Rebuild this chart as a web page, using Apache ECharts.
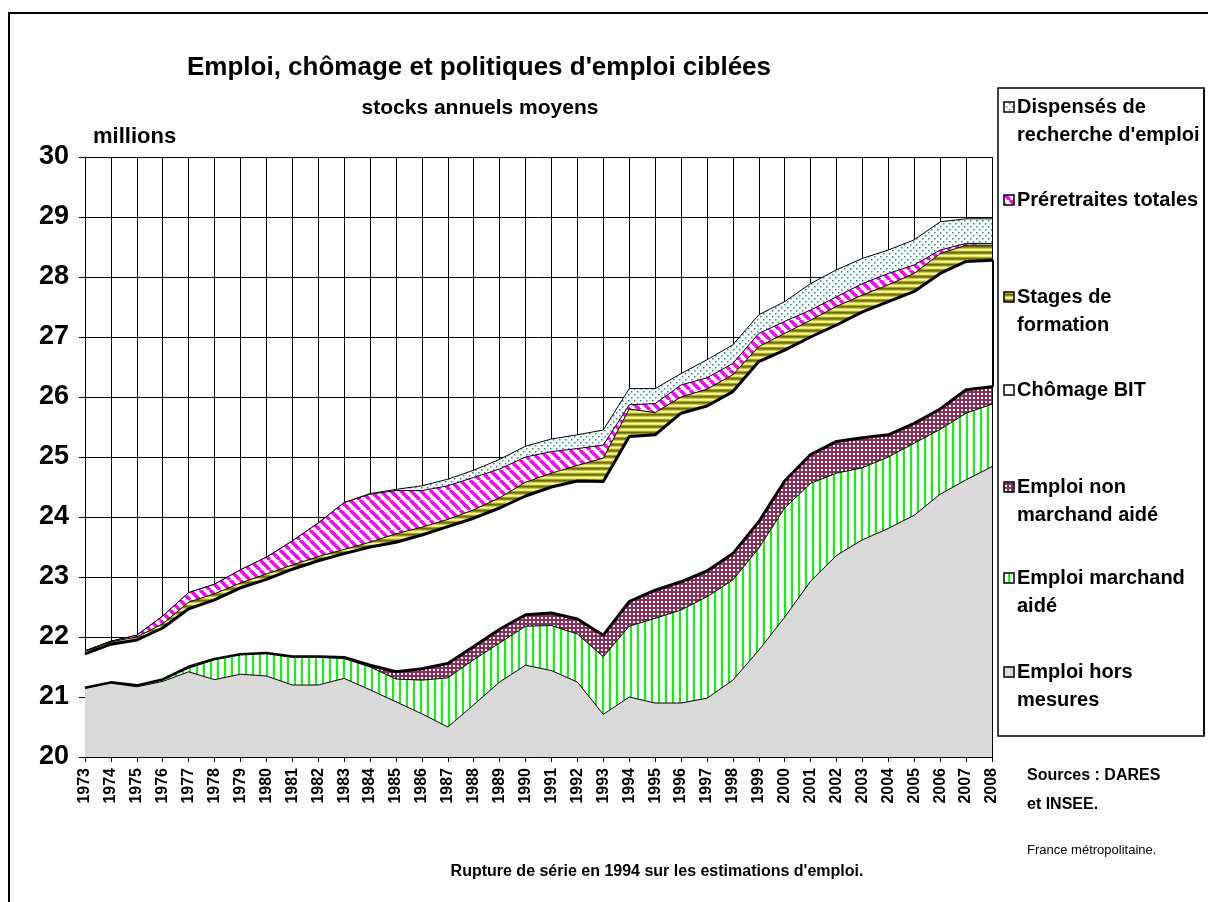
<!DOCTYPE html>
<html>
<head>
<meta charset="utf-8">
<title>Emploi, chômage et politiques d'emploi ciblées</title>
<script src="https://cdn.jsdelivr.net/npm/echarts@6/dist/echarts.min.js"></script>
<style>
  html, body { margin: 0; padding: 0; background: #fff; }
  #chart { width: 1208px; height: 902px; }
</style>
</head>
<body>
<div id="chart"></div>
<script>
// stocks annuels moyens, en millions (France métropolitaine)
const years = ['1973', '1974', '1975', '1976', '1977', '1978', '1979', '1980', '1981', '1982',
  '1983', '1984', '1985', '1986', '1987', '1988', '1989', '1990', '1991', '1992',
  '1993', '1994', '1995', '1996', '1997', '1998', '1999', '2000', '2001', '2002',
  '2003', '2004', '2005', '2006', '2007', '2008']

const horsMesures = [21.14, 21.23, 21.17, 21.26, 21.42, 21.29, 21.38, 21.35, 21.20, 21.20,
  21.31, 21.12, 20.92, 20.72, 20.50, 20.87, 21.25, 21.53, 21.44, 21.25,
  20.71, 21.00, 20.90, 20.90, 20.98, 21.28, 21.78, 22.33, 22.93, 23.36,
  23.62, 23.81, 24.03, 24.38, 24.62, 24.84]
const marchandAide = [0.00, 0.00, 0.01, 0.02, 0.06, 0.33, 0.32, 0.37, 0.46, 0.46,
  0.33, 0.38, 0.38, 0.56, 0.82, 0.75, 0.65, 0.65, 0.75, 0.80,
  0.96, 1.18, 1.41, 1.55, 1.69, 1.67, 1.70, 1.82, 1.63, 1.37,
  1.20, 1.19, 1.20, 1.08, 1.11, 1.04]
const nonMarchandAide = [0.01, 0.01, 0.01, 0.01, 0.02, 0.01, 0.01, 0.01, 0.01, 0.01,
  0.02, 0.03, 0.12, 0.19, 0.24, 0.22, 0.23, 0.19, 0.21, 0.25,
  0.36, 0.41, 0.47, 0.47, 0.43, 0.44, 0.44, 0.45, 0.48, 0.53,
  0.50, 0.37, 0.33, 0.34, 0.39, 0.29]
const chomageBIT = [0.57, 0.64, 0.76, 0.86, 0.97, 0.99, 1.11, 1.23, 1.46, 1.60,
  1.73, 1.97, 2.16, 2.23, 2.28, 2.14, 2.02, 1.98, 2.10, 2.30,
  2.56, 2.75, 2.59, 2.81, 2.75, 2.70, 2.67, 2.18, 1.96, 1.94,
  2.10, 2.22, 2.20, 2.26, 2.14, 2.11]
const stagesFormation = [0.04, 0.04, 0.05, 0.07, 0.11, 0.10, 0.08, 0.09, 0.07, 0.07,
  0.07, 0.08, 0.14, 0.13, 0.12, 0.14, 0.17, 0.23, 0.23, 0.26,
  0.39, 0.46, 0.37, 0.27, 0.28, 0.28, 0.25, 0.28, 0.28, 0.31,
  0.28, 0.28, 0.30, 0.33, 0.27, 0.25]
const preretraites = [0.01, 0.01, 0.03, 0.13, 0.16, 0.16, 0.22, 0.28, 0.40, 0.56,
  0.78, 0.80, 0.72, 0.61, 0.56, 0.54, 0.48, 0.42, 0.36, 0.28,
  0.22, 0.07, 0.15, 0.20, 0.19, 0.19, 0.22, 0.20, 0.17, 0.16,
  0.19, 0.19, 0.14, 0.06, 0.03, 0.03]
const dispenses = [0.00, 0.00, 0.00, 0.00, 0.00, 0.00, 0.00, 0.00, 0.00, 0.00,
  0.00, 0.01, 0.02, 0.08, 0.11, 0.12, 0.16, 0.18, 0.21, 0.23,
  0.25, 0.27, 0.25, 0.19, 0.30, 0.31, 0.31, 0.33, 0.44, 0.45,
  0.42, 0.39, 0.42, 0.47, 0.41, 0.41]

const FONT = "'Liberation Sans', Arial, sans-serif"

// motifs de remplissage façon Excel
function tile(w, h, paint) {
  const c = document.createElement('canvas')
  c.width = w
  c.height = h
  paint(c.getContext('2d'))
  return {image: c, repeat: 'repeat'}
}

const fillGris = '#d9d9d9'
const fillVert = tile(7, 7, g => {
  g.fillStyle = '#fff'; g.fillRect(0, 0, 7, 7)
  g.fillStyle = '#00ff00'; g.fillRect(0, 0, 2, 7)
})
const fillBordeaux = tile(4, 4, g => {
  g.fillStyle = '#8a2f5c'; g.fillRect(0, 0, 4, 4)
  g.fillStyle = '#fff'; g.fillRect(1, 1, 2, 2)
})
const fillOlive = tile(1, 6, g => {
  const rows = ['#6b6b00', '#8c8c14', '#c8c850', '#ffff9c', '#e6e670', '#a3a326']
  rows.forEach((c, i) => { g.fillStyle = c; g.fillRect(0, i, 1, 1) })
})
const fillMagenta = tile(10, 10, g => {
  g.fillStyle = '#fff'; g.fillRect(0, 0, 10, 10)
  g.strokeStyle = '#ff00ff'; g.lineWidth = 3.5
  for (const o of [-10, 0, 10]) {
    g.beginPath(); g.moveTo(o, 0); g.lineTo(o + 10, 10); g.stroke()
  }
})
const fillTeal = tile(6, 6, g => {
  g.fillStyle = '#fff'; g.fillRect(0, 0, 6, 6)
  g.fillStyle = '#1a8c8c'
  g.fillRect(1, 1, 1.5, 1.5); g.fillRect(4, 4, 1.5, 1.5)
})

const layers = [
  {name: 'Emploi hors mesures', data: horsMesures, fill: fillGris, lw: 1},
  {name: 'Emploi marchand aidé', data: marchandAide, fill: fillVert, lw: 1},
  {name: 'Emploi non marchand aidé', data: nonMarchandAide, fill: fillBordeaux, lw: 3},
  {name: 'Chômage BIT', data: chomageBIT, fill: '#fff', lw: 3},
  {name: 'Stages de formation', data: stagesFormation, fill: fillOlive, lw: 1},
  {name: 'Préretraites totales', data: preretraites, fill: fillMagenta, lw: 1},
  {name: "Dispensés de recherche d'emploi", data: dispenses, fill: fillTeal, lw: 1}
]

// bord droit du chômage (fin de la zone en 2008)
const last = years.length - 1
const chomBas = horsMesures[last] + marchandAide[last] + nonMarchandAide[last]
const chomHaut = chomBas + chomageBIT[last]

const series = layers.map((l, i) => ({
  name: l.name,
  type: 'line',
  stack: 'total',
  data: l.data,
  symbol: 'none',
  z: 10 - i,
  lineStyle: {color: '#000', width: l.lw},
  itemStyle: {color: '#000'},
  areaStyle: {color: l.fill, opacity: 1},
  markLine: l.name === 'Chômage BIT' ? {
    silent: true,
    symbol: 'none',
    label: {show: false},
    lineStyle: {color: '#000', width: 3, type: 'solid'},
    data: [[{coord: [years[last], chomBas]}, {coord: [years[last], chomHaut]}]]
  } : undefined
}))

// légende dessinée à la main (espacements irréguliers)
const legendItems = [
  {lines: ['Dispensés de', "recherche d'emploi"], y: 107, fill: fillTeal},
  {lines: ['Préretraites totales'], y: 200, fill: fillMagenta},
  {lines: ['Stages de', 'formation'], y: 297, fill: fillOlive},
  {lines: ['Chômage BIT'], y: 390, fill: '#fff'},
  {lines: ['Emploi non', 'marchand aidé'], y: 487, fill: fillBordeaux},
  {lines: ['Emploi marchand', 'aidé'], y: 578, fill: fillVert},
  {lines: ['Emploi hors', 'mesures'], y: 672, fill: fillGris}
]

function txt(text, x, y, font, align) {
  return {
    type: 'text', silent: true,
    style: {text, x, y, font, fill: '#000',
      align: align || 'left', verticalAlign: 'middle',
      textAlign: align || 'left', textVerticalAlign: 'middle'}
  }
}

const graphic = [
  {type: 'polyline', silent: true, shape: {points: [[9, 902], [9, 13], [1208, 13]]},
    style: {stroke: '#000', lineWidth: 2, fill: null}},
  txt("Emploi, chômage et politiques d'emploi ciblées", 479, 68, `bold 26px ${FONT}`, 'center'),
  txt('stocks annuels moyens', 480, 108, `bold 21px ${FONT}`, 'center'),
  txt('millions', 93, 137, `bold 22px ${FONT}`),
  {type: 'rect', silent: true, shape: {x: 998, y: 88, width: 206, height: 648},
    style: {fill: '#fff', stroke: '#000', lineWidth: 1.5}}
]
legendItems.forEach(it => {
  graphic.push({type: 'rect', silent: true, z: 101,
    shape: {x: 1004, y: it.y - 5, width: 10, height: 10},
    style: {fill: it.fill, stroke: '#000', lineWidth: 1.5}})
  it.lines.forEach((s, k) => graphic.push(txt(s, 1017, it.y + k * 28, `bold 20px ${FONT}`)))
})
graphic.push(
  {type: 'rect', silent: true, z: 200, shape: {x: 1205, y: 80, width: 10, height: 660},
    style: {fill: '#fff'}},
  {type: 'line', silent: true, z: 201, shape: {x1: 1204, y1: 88, x2: 1204, y2: 736},
    style: {stroke: '#000', lineWidth: 1.5}},
  txt('Sources : DARES', 1027, 776, `bold 16px ${FONT}`),
  txt('et INSEE.', 1027, 805, `bold 16px ${FONT}`),
  txt('France métropolitaine.', 1027, 850, `13px ${FONT}`),
  txt("Rupture de série en 1994 sur les estimations d'emploi.", 657, 872, `bold 16px ${FONT}`, 'center')
)

const chart = echarts.init(document.getElementById('chart'))
chart.setOption({
  animation: false,
  backgroundColor: '#fff',
  textStyle: {fontFamily: FONT},
  grid: {left: 85, right: 216, top: 157, bottom: 145, outerBoundsMode: 'none'},
  xAxis: {
    type: 'category',
    data: years,
    boundaryGap: false,
    axisLine: {lineStyle: {color: '#000', width: 1}},
    axisTick: {show: true, interval: 0, length: 5, lineStyle: {color: '#000'}},
    axisLabel: {interval: 0, rotate: 90, margin: 11, color: '#000',
      fontWeight: 'bold', fontSize: 16, fontFamily: FONT},
    splitLine: {show: true, interval: 0, lineStyle: {color: '#000', width: 1}}
  },
  yAxis: {
    type: 'value',
    min: 20,
    max: 30,
    interval: 1,
    axisLine: {show: true, lineStyle: {color: '#000', width: 1}},
    axisTick: {show: true, length: 6, lineStyle: {color: '#000'}},
    axisLabel: {margin: 16, color: '#000', fontWeight: 'bold', fontSize: 27, fontFamily: FONT},
    splitLine: {show: true, lineStyle: {color: '#000', width: 1}}
  },
  series,
  graphic
})
</script>
</body>
</html>
